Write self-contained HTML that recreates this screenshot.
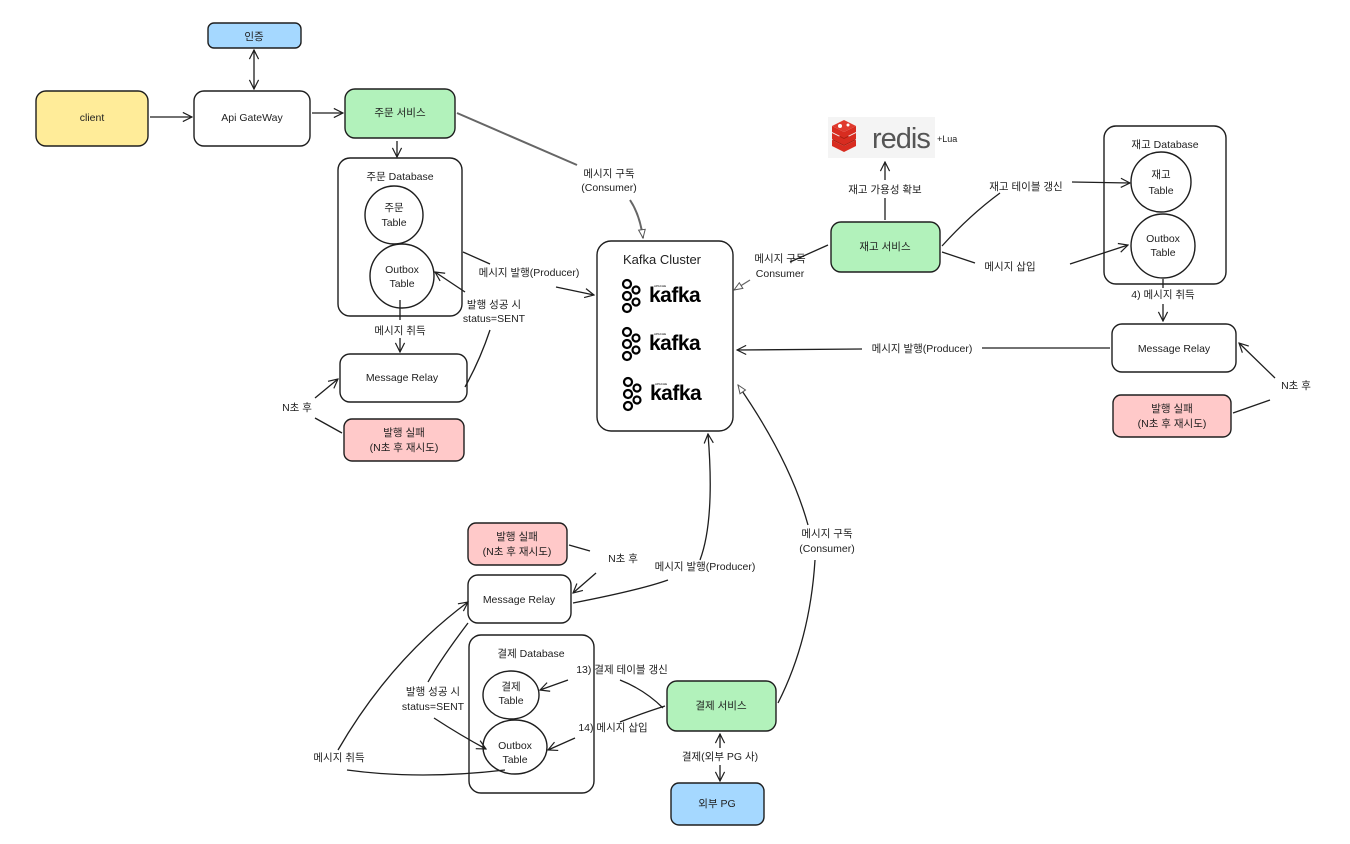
<!DOCTYPE html>
<html><head><meta charset="utf-8"><style>
html,body{margin:0;padding:0;background:#fff;}
svg{display:block;}
text{font-family:"Liberation Sans","Noto Sans CJK KR",sans-serif;font-size:10.5px;fill:#1e1e1e;}
.n{fill:#fff;stroke:#1e1e1e;stroke-width:1.4;}
.l{fill:none;stroke:#1e1e1e;stroke-width:1.3;}
.g{fill:none;stroke:#666;stroke-width:2;}
</style></head><body>
<svg width="1350" height="844" viewBox="0 0 1350 844" xmlns="http://www.w3.org/2000/svg">
<defs>
<marker id="a" viewBox="0 0 12 12" refX="11" refY="6" markerWidth="11" markerHeight="11" orient="auto-start-reverse" markerUnits="userSpaceOnUse">
<path d="M1,1 L11,6 L1,11" fill="none" stroke="#1e1e1e" stroke-width="1.3"/></marker>
<marker id="t" viewBox="0 0 12 12" refX="11" refY="6" markerWidth="10" markerHeight="10" orient="auto" markerUnits="userSpaceOnUse">
<path d="M1,2 L11,6 L1,10 Z" fill="#fff" stroke="#555" stroke-width="1.2"/></marker>
<g id="kf">
<circle cx="0" cy="0" r="4" fill="none" stroke="#000" stroke-width="2.2"/>
<circle cx="0" cy="12" r="4" fill="none" stroke="#000" stroke-width="2.2"/>
<circle cx="0" cy="24" r="4" fill="none" stroke="#000" stroke-width="2.2"/>
<circle cx="9" cy="6" r="3.5" fill="none" stroke="#000" stroke-width="2.2"/>
<circle cx="9" cy="18" r="3.5" fill="none" stroke="#000" stroke-width="2.2"/>
<text x="22" y="18" style="font-size:21px;font-weight:bold;fill:#000;letter-spacing:-0.5px">kafka</text>
<text x="27" y="3" style="font-size:3px;fill:#000">APACHE</text>
</g>
</defs>

<!-- nodes -->
<rect x="208" y="23" width="93" height="25" rx="6" fill="#a5d8ff" stroke="#1e1e1e" stroke-width="1.4"/>
<text x="254" y="40" text-anchor="middle">인증</text>
<rect x="36" y="91" width="112" height="55" rx="10" fill="#ffec99" stroke="#1e1e1e" stroke-width="1.4"/>
<text x="92" y="121" text-anchor="middle">client</text>
<rect class="n" x="194" y="91" width="116" height="55" rx="10"/>
<text x="252" y="121" text-anchor="middle">Api GateWay</text>
<rect x="345" y="89" width="110" height="49" rx="10" fill="#b2f2bb" stroke="#1e1e1e" stroke-width="1.4"/>
<text x="400" y="116" text-anchor="middle">주문 서비스</text>

<rect class="n" x="338" y="158" width="124" height="158" rx="12"/>
<text x="400" y="180" text-anchor="middle">주문 Database</text>
<circle class="n" cx="394" cy="215" r="29"/>
<text x="394" y="211" text-anchor="middle">주문</text><text x="394" y="226" text-anchor="middle">Table</text>
<circle class="n" cx="402" cy="276" r="32"/>
<text x="402" y="273" text-anchor="middle">Outbox</text><text x="402" y="287" text-anchor="middle">Table</text>
<rect class="n" x="340" y="354" width="127" height="48" rx="10"/>
<text x="402" y="381" text-anchor="middle">Message Relay</text>
<rect x="344" y="419" width="120" height="42" rx="8" fill="#ffc9c9" stroke="#1e1e1e" stroke-width="1.4"/>
<text x="404" y="436" text-anchor="middle">발행 실패</text><text x="404" y="451" text-anchor="middle">(N초 후 재시도)</text>

<rect class="n" x="597" y="241" width="136" height="190" rx="14"/>
<text x="662" y="264" text-anchor="middle" style="font-size:13px">Kafka Cluster</text>
<use href="#kf" x="627" y="284"/>
<use href="#kf" x="627" y="332"/>
<use href="#kf" x="628" y="382"/>

<!-- redis -->
<rect x="828" y="117" width="107" height="41" fill="#f4f4f4"/>
<g>
<path d="M832,140 L844,134 L856,140 L844,146 Z" fill="#a41e11"/>
<path d="M832,140 L832,146 L844,152 L856,146 L856,140 L844,146 Z" fill="#d82c20"/>
<path d="M832,133 L832,139 L844,145 L856,139 L856,133 L844,139 Z" fill="#d82c20"/>
<path d="M832,126 L832,132 L844,138 L856,132 L856,126 L844,132 Z" fill="#d82c20"/>
<path d="M832,126 L844,120 L856,126 L844,132 Z" fill="#e03a2e"/>
<circle cx="840" cy="126" r="2" fill="#fff"/><circle cx="848" cy="125" r="1.5" fill="#fff"/>
</g>
<text x="872" y="148" style="font-size:29px;fill:#555;letter-spacing:-1px">redis</text>
<text x="937" y="142" style="font-size:9px">+Lua</text>

<rect x="831" y="222" width="109" height="50" rx="10" fill="#b2f2bb" stroke="#1e1e1e" stroke-width="1.4"/>
<text x="885" y="250" text-anchor="middle">재고 서비스</text>

<rect class="n" x="1104" y="126" width="122" height="158" rx="12"/>
<text x="1165" y="148" text-anchor="middle">재고 Database</text>
<circle class="n" cx="1161" cy="182" r="30"/>
<text x="1161" y="178" text-anchor="middle">재고</text><text x="1161" y="194" text-anchor="middle">Table</text>
<circle class="n" cx="1163" cy="246" r="32"/>
<text x="1163" y="242" text-anchor="middle">Outbox</text><text x="1163" y="256" text-anchor="middle">Table</text>
<rect class="n" x="1112" y="324" width="124" height="48" rx="10"/>
<text x="1174" y="352" text-anchor="middle">Message Relay</text>
<rect x="1113" y="395" width="118" height="42" rx="8" fill="#ffc9c9" stroke="#1e1e1e" stroke-width="1.4"/>
<text x="1172" y="412" text-anchor="middle">발행 실패</text><text x="1172" y="427" text-anchor="middle">(N초 후 재시도)</text>

<rect x="468" y="523" width="99" height="42" rx="8" fill="#ffc9c9" stroke="#1e1e1e" stroke-width="1.4"/>
<text x="517" y="540" text-anchor="middle">발행 실패</text><text x="517" y="555" text-anchor="middle">(N초 후 재시도)</text>
<rect class="n" x="468" y="575" width="103" height="48" rx="10"/>
<text x="519" y="603" text-anchor="middle">Message Relay</text>

<rect class="n" x="469" y="635" width="125" height="158" rx="12"/>
<text x="531" y="657" text-anchor="middle">결제 Database</text>
<ellipse class="n" cx="511" cy="695" rx="28" ry="24"/>
<text x="511" y="690" text-anchor="middle">결제</text><text x="511" y="704" text-anchor="middle">Table</text>
<ellipse class="n" cx="515" cy="747" rx="32" ry="27"/>
<text x="515" y="749" text-anchor="middle">Outbox</text><text x="515" y="763" text-anchor="middle">Table</text>
<rect x="667" y="681" width="109" height="50" rx="10" fill="#b2f2bb" stroke="#1e1e1e" stroke-width="1.4"/>
<text x="721" y="709" text-anchor="middle">결제 서비스</text>
<rect x="671" y="783" width="93" height="42" rx="8" fill="#a5d8ff" stroke="#1e1e1e" stroke-width="1.4"/>
<text x="717" y="807" text-anchor="middle">외부 PG</text>

<!-- connectors -->
<line class="l" x1="254" y1="50" x2="254" y2="89" marker-start="url(#a)" marker-end="url(#a)"/>
<line class="l" x1="150" y1="117" x2="192" y2="117" marker-end="url(#a)"/>
<line class="l" x1="312" y1="113" x2="343" y2="113" marker-end="url(#a)"/>
<line class="l" x1="397" y1="141" x2="397" y2="157" marker-end="url(#a)"/>
<path class="g" d="M457,113 L577,165"/>
<path class="g" d="M630,200 Q640,215 643,238" marker-end="url(#t)"/>
<text x="609" y="177" text-anchor="middle">메시지 구독</text><text x="609" y="191" text-anchor="middle">(Consumer)</text>
<path class="l" d="M463,252 L490,264"/>
<path class="l" d="M556,287 L594,295" marker-end="url(#a)"/>
<text x="529" y="276" text-anchor="middle">메시지 발행(Producer)</text>
<path class="l" d="M465,387 Q480,360 490,330"/>
<path class="l" d="M465,292 L435,272" marker-end="url(#a)"/>
<text x="494" y="308" text-anchor="middle">발행 성공 시</text><text x="494" y="322" text-anchor="middle">status=SENT</text>
<line class="l" x1="400" y1="300" x2="400" y2="320"/>
<line class="l" x1="400" y1="338" x2="400" y2="352" marker-end="url(#a)"/>
<text x="400" y="334" text-anchor="middle">메시지 취득</text>
<path class="l" d="M342,433 L315,418"/>
<path class="l" d="M315,398 L338,379" marker-end="url(#a)"/>
<text x="297" y="411" text-anchor="middle">N초 후</text>

<line class="l" x1="885" y1="220" x2="885" y2="198"/>
<line class="l" x1="885" y1="180" x2="885" y2="162" marker-end="url(#a)"/>
<text x="885" y="193" text-anchor="middle">재고 가용성 확보</text>
<path class="l" d="M942,246 Q970,215 1000,193"/>
<path class="l" d="M1072,182 L1130,183" marker-end="url(#a)"/>
<text x="1026" y="190" text-anchor="middle">재고 테이블 갱신</text>
<path class="l" d="M942,252 L975,263" stroke-width="2"/>
<path class="l" d="M1070,264 L1128,245" marker-end="url(#a)"/>
<text x="1010" y="270" text-anchor="middle">메시지 삽입</text>
<path class="l" d="M828,245 L790,262"/>
<path class="g" style="stroke-width:1.3" d="M750,280 L734,290" marker-end="url(#t)"/>
<text x="780" y="262" text-anchor="middle">메시지 구독</text><text x="780" y="277" text-anchor="middle">Consumer</text>
<line class="l" x1="1163" y1="279" x2="1163" y2="288"/>
<line class="l" x1="1163" y1="304" x2="1163" y2="321" marker-end="url(#a)"/>
<text x="1163" y="298" text-anchor="middle">4) 메시지 취득</text>
<path class="l" d="M1110,348 L982,348" stroke-width="1.7"/>
<path class="l" d="M862,349 L737,350" marker-end="url(#a)"/>
<text x="922" y="352" text-anchor="middle">메시지 발행(Producer)</text>
<path class="l" d="M1233,413 L1270,400"/>
<path class="l" d="M1275,378 L1239,343" marker-end="url(#a)"/>
<text x="1296" y="389" text-anchor="middle">N초 후</text>

<path class="l" d="M569,545 L590,551"/>
<path class="l" d="M596,573 L573,593" marker-end="url(#a)"/>
<text x="623" y="562" text-anchor="middle">N초 후</text>
<path class="l" d="M573,603 Q640,590 668,580"/>
<path class="l" d="M700,560 Q715,520 708,434" marker-end="url(#a)"/>
<text x="705" y="570" text-anchor="middle">메시지 발행(Producer)</text>
<path class="l" d="M778,703 Q810,640 815,560"/>
<path class="l" d="M808,525 Q790,460 738,385" marker-end="url(#t)"/>
<text x="827" y="537" text-anchor="middle">메시지 구독</text><text x="827" y="552" text-anchor="middle">(Consumer)</text>
<path class="l" d="M505,770 Q420,780 347,770"/>
<path class="l" d="M338,750 Q390,660 468,602" marker-end="url(#a)"/>
<text x="339" y="761" text-anchor="middle">메시지 취득</text>
<path class="l" d="M468,623 Q440,660 428,682"/>
<path class="l" d="M434,718 Q460,735 486,749" marker-end="url(#a)"/>
<text x="433" y="695" text-anchor="middle">발행 성공 시</text><text x="433" y="710" text-anchor="middle">status=SENT</text>
<path class="l" d="M568,680 L540,690" stroke="#666" marker-end="url(#a)"/>
<path class="l" d="M620,680 Q645,690 663,708"/>
<text x="622" y="673" text-anchor="middle">13) 결제 테이블 갱신</text>
<path class="l" d="M665,706 Q640,714 620,722"/>
<path class="l" d="M575,738 L548,750" marker-end="url(#a)" stroke-width="1.7"/>
<text x="613" y="731" text-anchor="middle">14) 메시지 삽입</text>
<line class="l" x1="720" y1="734" x2="720" y2="748" marker-start="url(#a)"/>
<line class="l" x1="720" y1="765" x2="720" y2="781" marker-end="url(#a)"/>
<text x="720" y="760" text-anchor="middle">결제(외부 PG 사)</text>
</svg>
</body></html>
